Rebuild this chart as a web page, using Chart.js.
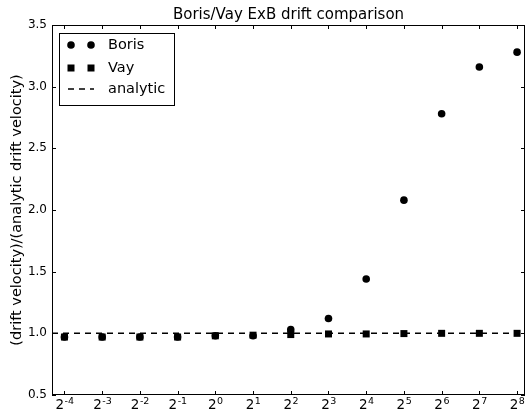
<!DOCTYPE html>
<html>
<head>
<meta charset="utf-8">
<script src="https://cdn.jsdelivr.net/npm/chart.js@4.4.0/dist/chart.umd.min.js"></script>
<style>
  html, body { margin: 0; padding: 0; background: #fff; }
  #wrap { width: 527px; height: 415px; }
</style>
</head>
<body>
<div id="wrap"><canvas id="driftChart"></canvas></div>
<script>
// Data
const xValues = [0.0625, 0.125, 0.25, 0.5, 1, 2, 4, 8, 16, 32, 64, 128, 256];
const xTickBase = '2';
const xTickExponents = ['-4', '-3', '-2', '-1', '0', '1', '2', '3', '4', '5', '6', '7', '8'];
const borisValues = [0.97, 0.97, 0.97, 0.97, 0.98, 0.98, 1.03, 1.12, 1.44, 2.08, 2.78, 3.16, 3.28];
const vayValues = [0.97, 0.97, 0.97, 0.97, 0.98, 0.985, 0.99, 0.995, 0.995, 0.998, 1.0, 1.0, 1.0];
const analyticValue = 1.0;
const yTicks = [0.5, 1.0, 1.5, 2.0, 2.5, 3.0, 3.5];

// axis limits (log2 -4.33 .. 8.21)
const xMin = Math.pow(2, -4.33);
const xMax = Math.pow(2, 8.21);

const FONT = "'DejaVu Sans', sans-serif";

const toPoints = (vals) => vals.map((v, i) => ({ x: xValues[i], y: v }));

// Frame, inward ticks on all sides, 2^n tick labels and a matplotlib style legend
const framePlugin = {
    id: 'frame',
    afterDraw(chart) {
        const { ctx, chartArea: a, scales: { x, y } } = chart;
        ctx.save();
        ctx.strokeStyle = '#000';
        ctx.lineWidth = 1;
        ctx.strokeRect(a.left + 0.5, a.top + 0.5, a.right - a.left - 1, a.bottom - a.top - 1);

        const tl = 4;
        ctx.beginPath();
        x.ticks.forEach(t => {
            const px = Math.round(x.getPixelForValue(t.value)) + 0.5;
            ctx.moveTo(px, a.bottom); ctx.lineTo(px, a.bottom - tl);
            ctx.moveTo(px, a.top); ctx.lineTo(px, a.top + tl);
        });
        y.ticks.forEach(t => {
            const py = Math.round(y.getPixelForValue(t.value)) + 0.5;
            ctx.moveTo(a.left, py); ctx.lineTo(a.left + tl, py);
            ctx.moveTo(a.right, py); ctx.lineTo(a.right - tl, py);
        });
        ctx.stroke();

        // x tick labels as 2 with a raised exponent
        ctx.fillStyle = '#000';
        ctx.textBaseline = 'alphabetic';
        ctx.textAlign = 'left';
        x.ticks.forEach((t, i) => {
            const px = x.getPixelForValue(t.value);
            const exp = xTickExponents[i];
            ctx.font = '13.5px ' + FONT;
            const wb = ctx.measureText(xTickBase).width;
            ctx.font = '9.5px ' + FONT;
            const we = ctx.measureText(exp).width;
            const sx = px - (wb + we) / 2;
            ctx.font = '13.5px ' + FONT;
            ctx.fillText(xTickBase, sx, a.bottom + 13.5);
            ctx.font = '9.5px ' + FONT;
            ctx.fillText(exp, sx + wb + 0.5, a.bottom + 8.5);
        });

        // legend box
        const bx = a.left + 7, by = a.top + 8, bw = 115, bh = 72;
        ctx.fillStyle = '#fff';
        ctx.fillRect(bx, by, bw, bh);
        ctx.strokeRect(bx + 0.5, by + 0.5, bw, bh);

        const rows = [by + 12, by + 35, by + 56];
        const m1 = bx + 12, m2 = bx + 32;
        ctx.fillStyle = '#000';
        [m1, m2].forEach(mx => {
            ctx.beginPath(); ctx.arc(mx, rows[0], 3.8, 0, Math.PI * 2); ctx.fill();
        });
        [m1, m2].forEach(mx => ctx.fillRect(mx - 3.5, rows[1] - 3.5, 7, 7));
        ctx.lineWidth = 1.5;
        ctx.setLineDash([6, 5]);
        ctx.beginPath(); ctx.moveTo(bx + 9, rows[2]); ctx.lineTo(bx + 35, rows[2]); ctx.stroke();
        ctx.setLineDash([]);

        ctx.font = '14.5px ' + FONT;
        ctx.textBaseline = 'middle';
        chart.data.datasets.forEach((ds, i) => ctx.fillText(ds.label, bx + 49, rows[i]));
        ctx.restore();
    }
};

new Chart(document.getElementById('driftChart'), {
    type: 'scatter',
    data: {
        datasets: [
            {
                label: 'Boris',
                data: toPoints(borisValues),
                pointStyle: 'circle',
                pointRadius: 3.8,
                pointHoverRadius: 3.8,
                backgroundColor: '#000',
                borderColor: '#000',
                borderWidth: 0,
                order: 2
            },
            {
                label: 'Vay',
                data: toPoints(vayValues),
                pointStyle: 'rect',
                pointRadius: 4.95,
                pointHoverRadius: 4.95,
                backgroundColor: '#000',
                borderColor: '#000',
                borderWidth: 0,
                order: 1
            },
            {
                label: 'analytic',
                type: 'line',
                data: [{ x: xMin, y: analyticValue }, { x: xMax, y: analyticValue }],
                borderColor: '#000',
                borderWidth: 1.5,
                borderDash: [6, 5],
                pointRadius: 0,
                fill: false,
                order: 3
            }
        ]
    },
    options: {
        responsive: true,
        maintainAspectRatio: false,
        animation: false,
        devicePixelRatio: 1,
        layout: { autoPadding: false, padding: { left: 0, right: 2, top: 0, bottom: 0 } },
        plugins: {
            legend: { display: false },
            tooltip: { enabled: false },
            title: {
                display: true,
                fullSize: false, // centre over the plot area like matplotlib
                text: 'Boris/Vay ExB drift comparison',
                color: '#000',
                font: { family: FONT, size: 15, weight: 'normal' },
                padding: { top: 6, bottom: 1 }
            }
        },
        scales: {
            x: {
                type: 'logarithmic',
                min: xMin,
                max: xMax,
                grid: { display: false, drawTicks: false },
                border: { display: false },
                afterBuildTicks: (scale) => { scale.ticks = xValues.map(v => ({ value: v })); },
                afterFit: (scale) => { scale.height = 20; },
                ticks: { display: false, autoSkip: false }
            },
            y: {
                min: 0.5,
                max: 3.5,
                grid: { display: false, drawTicks: false },
                border: { display: false },
                afterBuildTicks: (scale) => { scale.ticks = yTicks.map(v => ({ value: v })); },
                afterFit: (scale) => { scale.width = 52; },
                title: {
                    display: true,
                    text: '(drift velocity)/(analytic drift velocity)',
                    color: '#000',
                    font: { family: FONT, size: 14.5 },
                    padding: { top: 9, bottom: 0 }
                },
                ticks: {
                    padding: 5,
                    color: '#000',
                    font: { family: FONT, size: 12 },
                    callback: (v) => Number(v).toFixed(1)
                }
            }
        }
    },
    plugins: [framePlugin]
});
</script>
</body>
</html>
